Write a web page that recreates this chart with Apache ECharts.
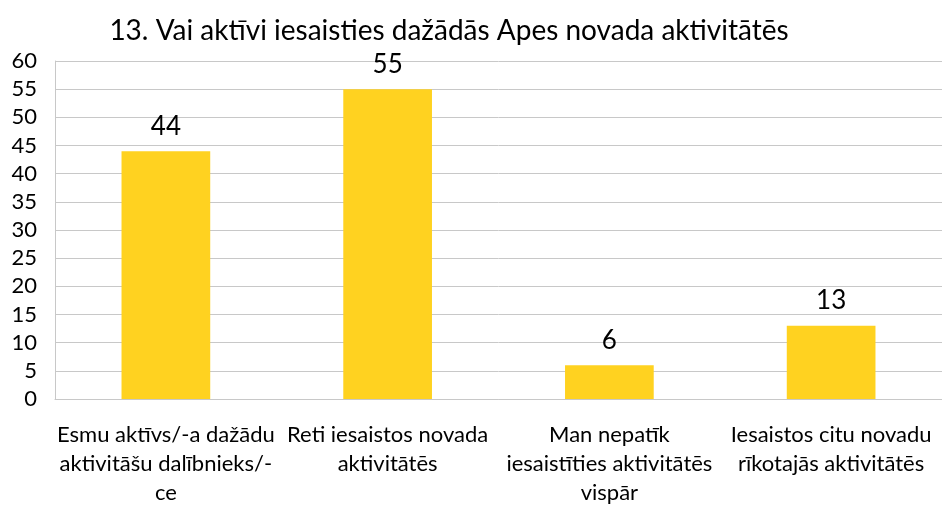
<!DOCTYPE html>
<html>
<head>
<meta charset="utf-8">
<script src="https://cdn.jsdelivr.net/npm/echarts@6/dist/echarts.min.js"></script>
<style>
  html, body { margin: 0; padding: 0; background: #fff; }
  #chart { width: 942px; height: 507px; }
</style>
</head>
<body>
<div id="chart"></div>
<script>
const chartTitle = "13. Vai aktīvi iesaisties dažādās Apes novada aktivitātēs";
const categories = [
  "Esmu aktīvs/-a dažādu\naktivitāšu dalībnieks/-\nce",
  "Reti iesaistos novada\naktivitātēs",
  "Man nepatīk\niesaistīties aktivitātēs\nvispār",
  "Iesaistos citu novadu\nrīkotajās aktivitātēs"
];
const values = [44, 55, 6, 13];

let myChart = echarts.init(document.getElementById("chart"));
myChart.setOption({
  backgroundColor: "#fff",
  textStyle: {
    fontFamily: "Lato, 'Open Sans', sans-serif",
    color: "#000"
  },
  title: {
    text: chartTitle,
    left: 444,
    top: 12,
    textAlign: "center",
    textStyle: {
      fontSize: 28,
      fontWeight: "normal",
      color: "#000",
      fontFamily: "Lato, 'Open Sans', sans-serif"
    }
  },
  grid: {
    left: 55,
    top: 61,
    width: 889,
    height: 340,
    containLabel: false
  },
  xAxis: {
    type: "category",
    data: categories,
    axisLine: {
      lineStyle: { color: "#c8c8c8", width: 1 }
    },
    axisTick: { show: false },
    axisLabel: {
      interval: 0,
      margin: 21,
      fontSize: 22,
      lineHeight: 29,
      color: "#000"
    }
  },
  yAxis: {
    type: "value",
    min: 0,
    max: 60,
    interval: 5,
    axisLine: {
      show: true,
      lineStyle: { color: "#c8c8c8", width: 1 }
    },
    axisTick: { show: false },
    axisLabel: {
      margin: 18,
      fontSize: 22,
      color: "#000"
    },
    splitLine: {
      show: true,
      lineStyle: { color: "#c8c8c8", width: 1, type: "solid" }
    }
  },
  series: [
    {
      type: "bar",
      data: values,
      barWidth: "40%",
      itemStyle: { color: "#FFD220" },
      label: {
        show: true,
        position: "top",
        distance: 12,
        fontSize: 26,
        color: "#000"
      }
    }
  ]
});
</script>
</body>
</html>
